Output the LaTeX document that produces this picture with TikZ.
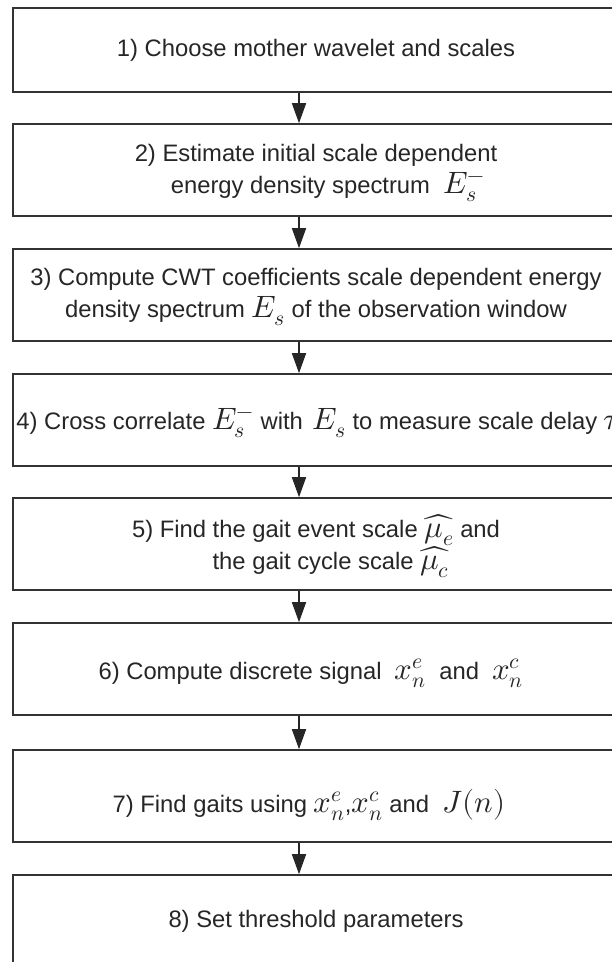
\documentclass[tikz,border=0pt]{standalone}
\usepackage{fontspec}
\usepackage{unicode-math}
\setmainfont{Liberation Sans}
\setmathfont{Latin Modern Math}[Scale=1.3]
\usetikzlibrary{arrows.meta}
\tikzset{
  stepbox/.style={draw=black!80, line width=1.6pt, minimum width=606pt, minimum height=92pt, inner sep=0pt},
  steptext/.style={align=center, font=\fontsize{23.8}{32}\selectfont, text=black!85, inner sep=0pt},
  arr/.style={draw=black!85, line width=1.6pt, -{Triangle[width=14pt,length=20pt]}}
}
\begin{document}
\begin{tikzpicture}[x=1pt,y=-1pt]
\useasboundingbox (0,0) rectangle (611,962);
\fill[white] (0,0) rectangle (611,962);
\coordinate (ax) at (299,0);
\node[stepbox, minimum height=84pt] (b1) at (316,50) {};
\node[stepbox] (b2) at (316,170) {};
\node[stepbox] (b3) at (316,295) {};
\node[stepbox] (b4) at (316,420) {};
\node[stepbox] (b5) at (316,544) {};
\node[stepbox] (b6) at (316,669) {};
\node[stepbox] (b7) at (316,796) {};
\node[stepbox] (b8) at (316,921) {};
\node[steptext] (t1) at (b1.center) {1) Choose mother wavelet and scales};
\node[steptext] (t2) at ([yshift=-3pt]b2.center) {2) Estimate initial scale dependent\\\hspace*{24pt}energy density spectrum\ \ $E_s^-$};
\node[steptext] (t3) at ([yshift=-2pt]b3.center) {3) Compute CWT coefficients scale dependent energy\\density spectrum $E_s$ of the observation window};
\node[steptext, anchor=west] (t4) at ([xshift=4pt,yshift=-3pt]b4.west) {4) Cross correlate $E_s^-$\ with\hspace{0.4em}$E_s$ to measure scale delay $\tau$};
\node[steptext] (t5) at ([yshift=-2pt]b5.center) {5) Find the gait event scale $\widehat{\mu_e}$ and\\\hspace*{30pt}the gait cycle scale $\widehat{\mu_c}$};
\node[steptext] (t6) at ([xshift=-5pt,yshift=-4pt]b6.center) {6) Compute discrete signal\ \ $x_n^e$\ \ and\ \ $x_n^c$};
\node[steptext] (t7) at ([xshift=-7pt,yshift=-9pt]b7.center) {7) Find gaits using $x_n^e$,$x_n^c$\ and\ \ $J(n)$};
\node[steptext] (t8) at (b8.center) {8) Set threshold parameters};
\foreach \a/\b in {b1/b2,b2/b3,b3/b4,b4/b5,b5/b6,b6/b7,b7/b8}
  \draw[arr] (\a.south -| ax) -- (\b.north -| ax);
\end{tikzpicture}
\end{document}
